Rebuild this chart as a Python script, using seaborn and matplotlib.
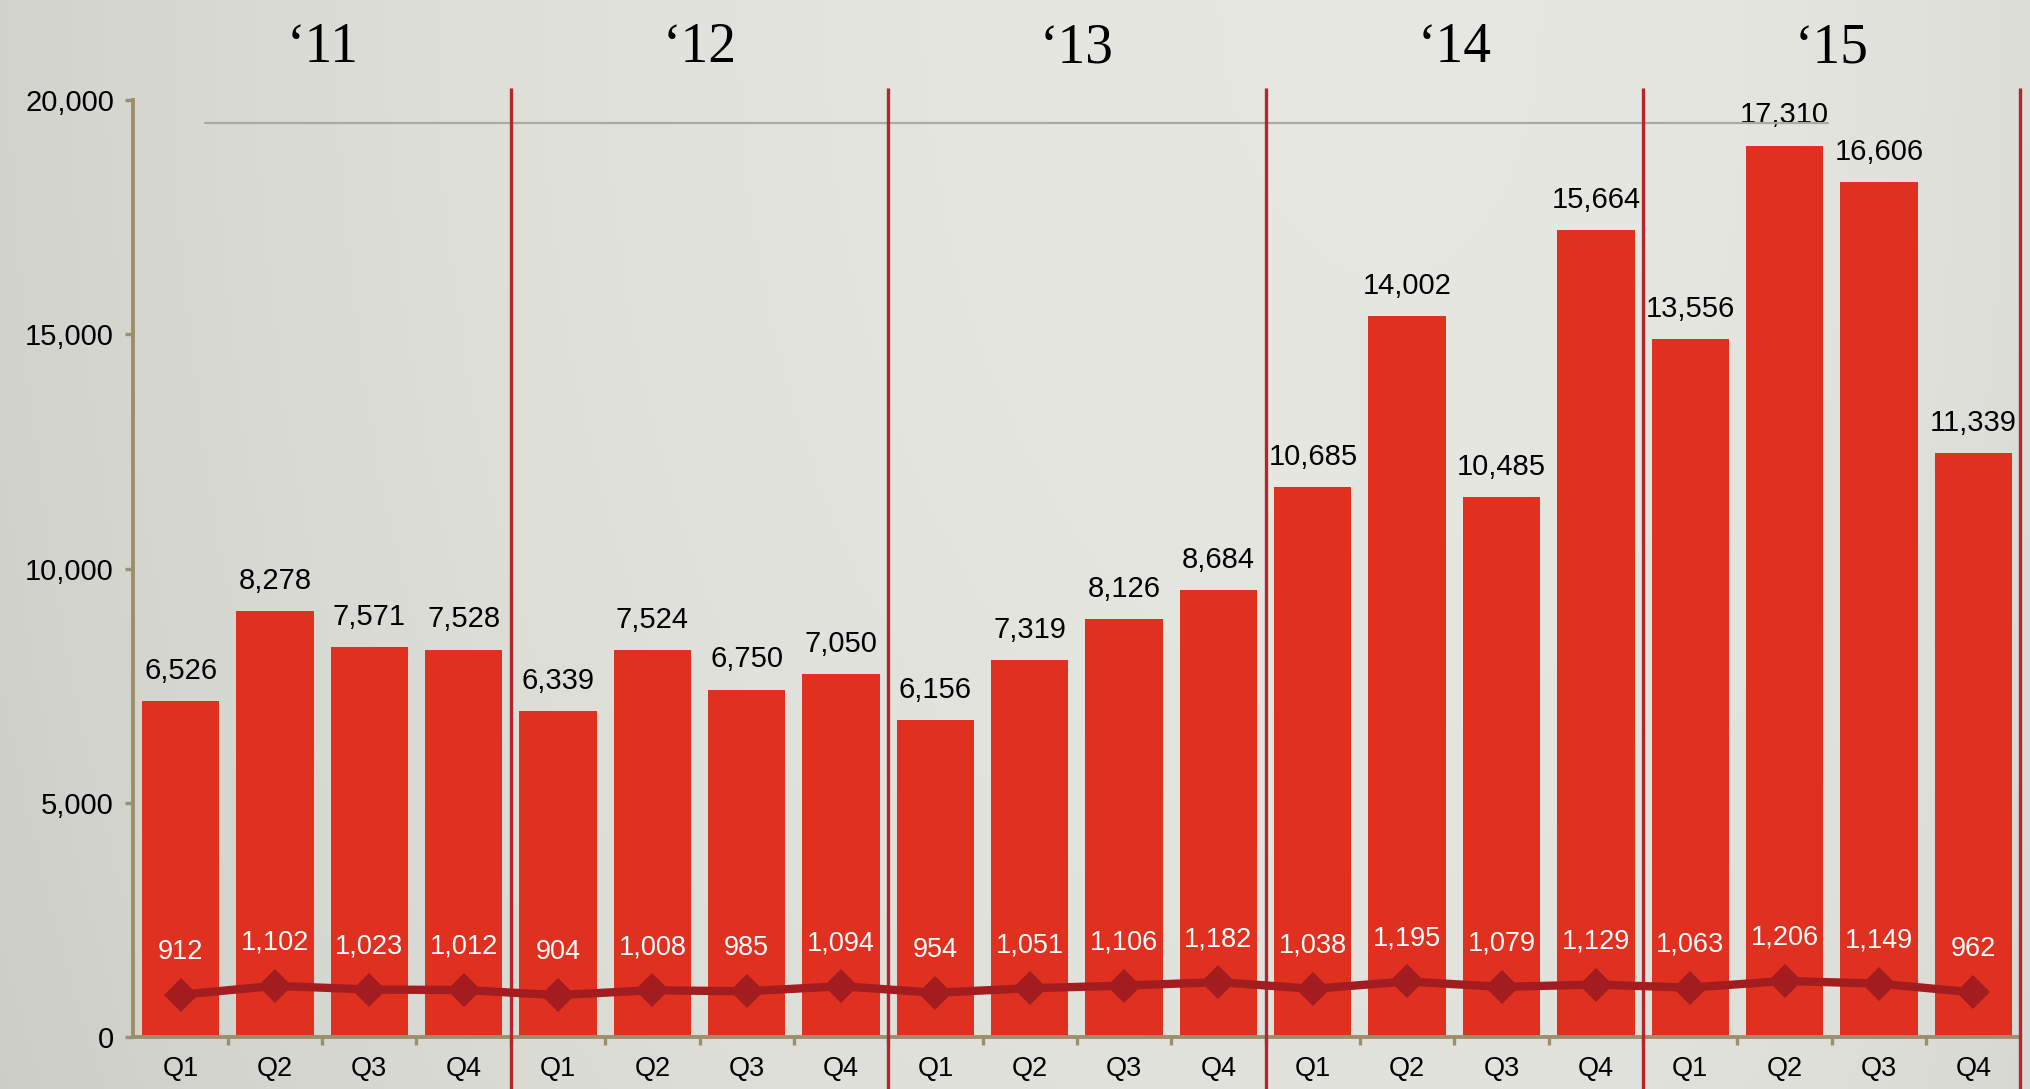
import numpy as np
import pandas as pd
import matplotlib
matplotlib.use("Agg")
import matplotlib.pyplot as plt
import matplotlib.transforms as mtransforms
from matplotlib.ticker import FixedLocator, FuncFormatter
import seaborn as sns

# ---- data -------------------------------------------------------------
years = ["\u201811", "\u201812", "\u201813", "\u201814", "\u201815"]
quarters = ["Q1", "Q2", "Q3", "Q4"]
bar_values = [6526, 8278, 7571, 7528,
              6339, 7524, 6750, 7050,
              6156, 7319, 8126, 8684,
              10685, 14002, 10485, 15664,
              13556, 17310, 16606, 11339]
line_values = [912, 1102, 1023, 1012,
               904, 1008, 985, 1094,
               954, 1051, 1106, 1182,
               1038, 1195, 1079, 1129,
               1063, 1206, 1149, 962]
y_ticks = [0, 5000, 10000, 15000, 20000]
bar_axis_max = 18200      # the bar series sits on its own hidden scale
guide_level = 19500       # thin grey guide rule near the top

# ---- style --------------------------------------------------------------
sns.set_theme(style="white")
plt.rcParams["font.family"] = ["Liberation Sans", "DejaVu Sans"]

BAR_RED = "#e0301f"
LINE_RED = "#a31c1f"
SEP_RED = "#b3262b"
AXIS_TAN = "#9c8f6e"

n = len(bar_values)
periods = [f"{years[i // 4]} {quarters[i % 4]}" for i in range(n)]
df = pd.DataFrame({"period": periods, "visits": bar_values, "returns": line_values})

fig = plt.figure(figsize=(20.31, 10.89), dpi=100)
fig.patch.set_facecolor("#e3e3de")

# soft paper-like backdrop, a little darker towards the left edge
bg = fig.add_axes([0, 0, 1, 1], zorder=-10)
h, w = 300, 600
xx = np.linspace(0, 1, w)[None, :]
yy = np.linspace(0, 1, h)[:, None]
shade = 0.912 - 0.085 * (1 - xx) ** 3 - 0.045 * xx ** 8 - 0.02 * yy ** 2
rgb = np.dstack([shade, shade, shade - 0.022])
bg.imshow(np.clip(rgb, 0, 1), aspect="auto", extent=[0, 1, 0, 1])
bg.set_axis_off()

# ---- bars ---------------------------------------------------------------
ax = fig.add_axes([0.0657, 0.0473, 0.9291, 0.8611])
ax.set_facecolor("none")
sns.barplot(data=df, x="period", y="visits", color=BAR_RED, saturation=1,
            width=0.82, edgecolor="none", ax=ax)
ax.set_xlim(-0.5, n - 0.5)
ax.set_ylim(0, bar_axis_max)
ax.set_xlabel("")
ax.set_ylabel("")
ax.set_yticks([])
for side, sp in ax.spines.items():
    sp.set_visible(side == "bottom")
ax.spines["bottom"].set_color(AXIS_TAN)
ax.spines["bottom"].set_linewidth(2.8)

ax.set_xticks(range(n))
ax.set_xticklabels([quarters[i % 4] for i in range(n)])
ax.xaxis.set_minor_locator(FixedLocator(np.arange(0.5, n - 1, 1)))
ax.tick_params(axis="x", which="major", bottom=False, length=0, pad=13,
               labelsize=19.5, labelcolor="black")
ax.tick_params(axis="x", which="minor", bottom=True, length=6, width=2.4,
               color=AXIS_TAN, direction="out")

for i, v in enumerate(bar_values):
    ax.annotate(f"{v:,}", (i, v), xytext=(0, 16), textcoords="offset points",
                ha="center", va="baseline", fontsize=21, color="black")

# ---- line on the visible scale -----------------------------------------
ax2 = ax.twinx()
ax2.set_ylim(0, 20000)
sns.lineplot(x=np.arange(n), y=line_values, ax=ax2, color=LINE_RED,
             linewidth=6, marker="D", markersize=17, markeredgewidth=0,
             legend=False, zorder=4)
ax2.set_xlim(-0.5, n - 0.5)
ax2.yaxis.tick_left()
ax2.yaxis.set_label_position("left")
ax2.set_yticks(y_ticks)
ax2.yaxis.set_major_formatter(FuncFormatter(lambda v, p: f"{int(v):,}"))
ax2.tick_params(axis="y", which="major", left=True, right=False,
                labelleft=True, labelright=False, length=6, width=2.4,
                color=AXIS_TAN, direction="out", pad=8, labelsize=21,
                labelcolor="black")
ax2.set_ylabel("")
for side, sp in ax2.spines.items():
    sp.set_visible(side == "left")
ax2.spines["left"].set_color(AXIS_TAN)
ax2.spines["left"].set_linewidth(2.8)

for i, v in enumerate(line_values):
    ax2.annotate(f"{v:,}", (i, v), xytext=(0, 31), textcoords="offset points",
                 ha="center", va="center", fontsize=19.5, color="white", zorder=5)

# guide rule and year separators
ax2.axhline(guide_level, xmin=0.038, xmax=0.898, color="#aaaaa4", lw=1.6, zorder=1)
blend = mtransforms.blended_transform_factory(ax2.transData, ax2.transAxes)
group_edges = np.arange(len(quarters), n + 1, len(quarters)) - 0.5
for xb in group_edges:
    ax2.plot([xb, xb], [-0.06, 1.0125], transform=blend, color=SEP_RED,
             lw=2.4, clip_on=False, zorder=3, solid_capstyle="butt")

group_centers = np.arange(len(years)) * len(quarters) + (len(quarters) - 1) / 2
for c, label in zip(group_centers, years):
    ax2.text(c, 1.055, label, transform=blend, ha="center", va="center",
             fontsize=40, family=["Liberation Serif", "DejaVu Serif"],
             color="black")

fig.savefig("out.png", dpi=100)
